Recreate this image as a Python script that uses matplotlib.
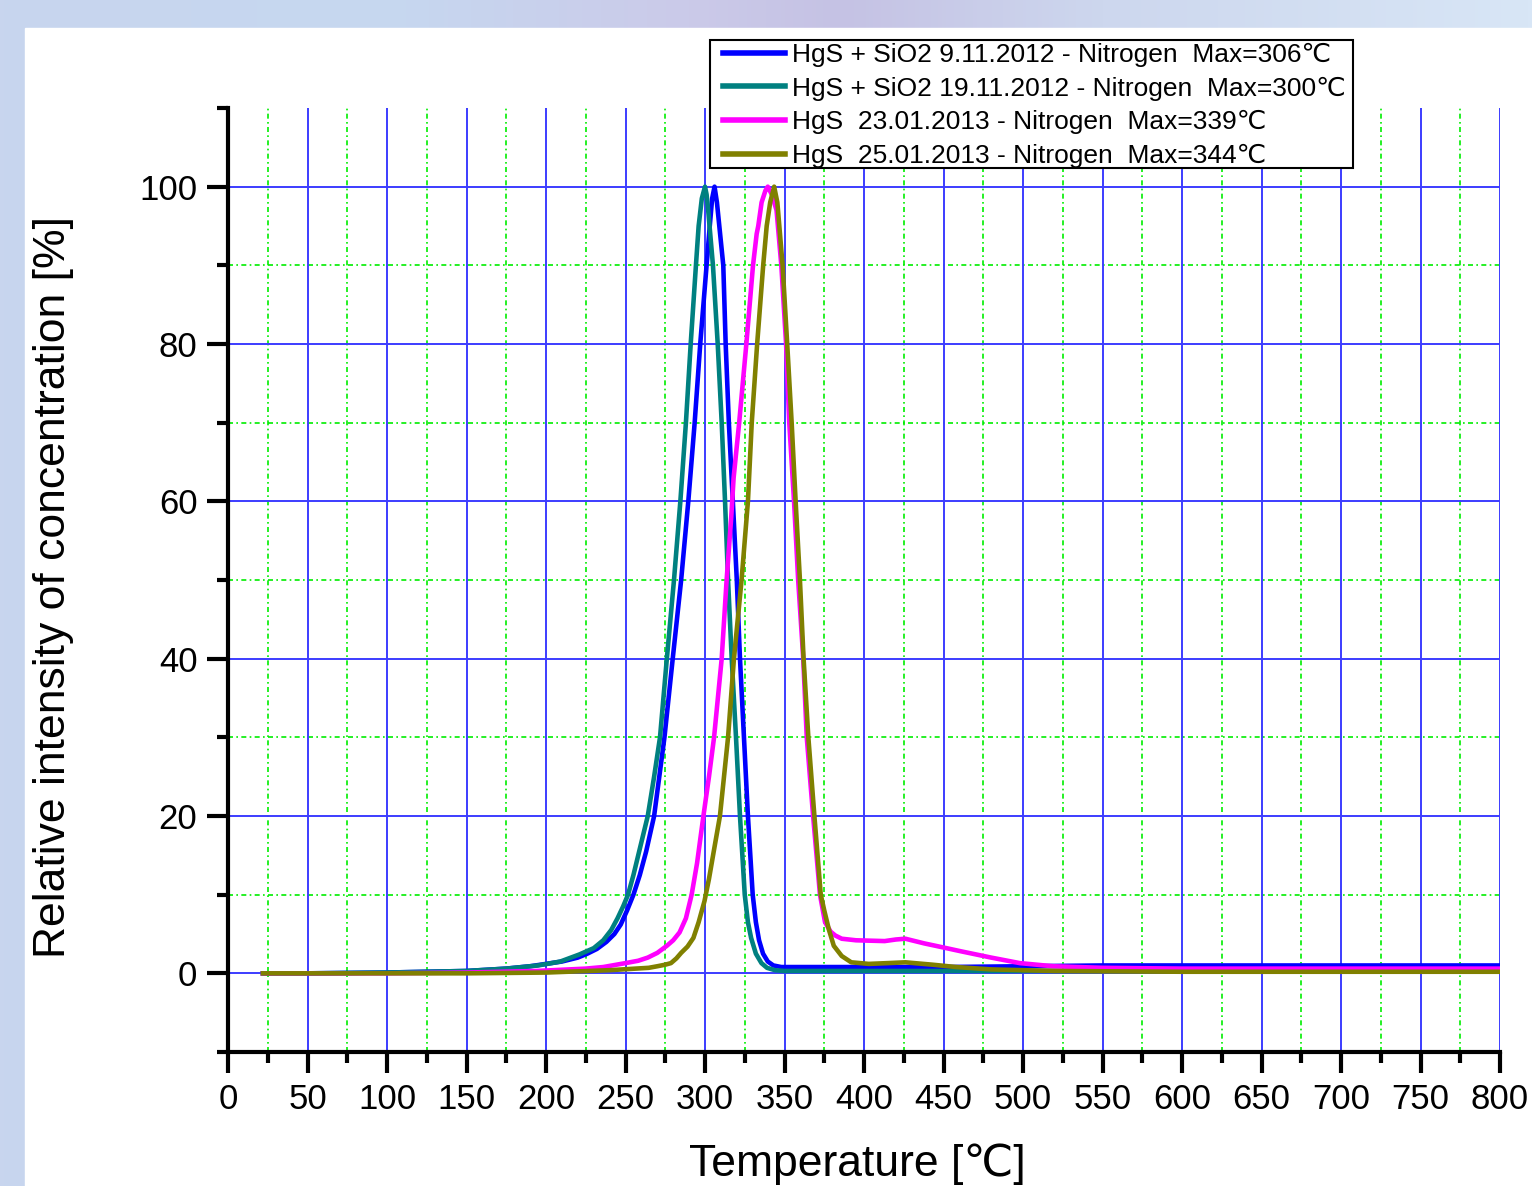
import numpy as np
import matplotlib
matplotlib.use("Agg")
import matplotlib.pyplot as plt
from matplotlib.patches import Rectangle
from matplotlib.lines import Line2D

# ==========================================
# DATA
# ==========================================
LABELS = [
    "HgS + SiO2 9.11.2012 - Nitrogen  Max=306\u2103",
    "HgS + SiO2 19.11.2012 - Nitrogen  Max=300\u2103",
    "HgS  23.01.2013 - Nitrogen  Max=339\u2103",
    "HgS  25.01.2013 - Nitrogen  Max=344\u2103",
]
COLORS = ["#0000ff", "#008080", "#ff00ff", "#808000"]

t_blue = [22, 50, 100, 150, 175, 190, 200, 210, 220, 226, 232, 238, 243, 247,
          251, 255, 259, 263, 268, 274.5, 279.7, 285, 289.5, 293.5, 297, 301,
          303, 304.5, 306, 307.5, 309, 311.5, 313, 315, 317.5, 320, 322, 324.5,
          327, 330, 332, 334, 336.5, 339.5, 343, 348, 360, 400, 450, 500, 550,
          600, 700, 800]
i_blue = [0, 0, 0.1, 0.3, 0.6, 0.9, 1.2, 1.5, 2.0, 2.5, 3.1, 4.0, 5, 6.2,
          8, 10, 12.5, 15.5, 20, 30, 40, 50, 60, 70, 80, 90,
          95, 98.5, 100, 98, 95, 90, 80, 70, 60, 50, 40, 30,
          20, 10, 6.5, 4.2, 2.5, 1.5, 1.0, 0.8, 0.8, 0.8, 0.8, 0.9, 1.0,
          1.0, 1.0, 1.0]

t_teal = [22, 50, 100, 150, 175, 195, 209, 221, 230, 236, 241, 245, 248.5,
          251.6, 255, 258, 261, 264, 268, 271.7, 276, 280.5, 284.5, 288, 291,
          294.3, 296, 298, 300, 301, 302, 305, 308, 310.5, 312.6, 314.5, 316.8,
          319.5, 322, 325, 327, 329, 332, 335.5, 339, 344, 350, 400, 500, 600,
          800]
i_teal = [0, 0, 0.1, 0.3, 0.6, 1.0, 1.5, 2.4, 3.2, 4.2, 5.5, 7, 8.5,
          10, 12.5, 15, 17.5, 20, 25, 30, 40, 50, 60, 70, 80,
          90, 95, 98.5, 100, 99, 97, 90, 80, 70, 60, 50, 40,
          30, 20, 10, 6.5, 4.5, 2.5, 1.3, 0.7, 0.4, 0.3, 0.3, 0.3, 0.3,
          0.3]

t_mag = [22, 100, 150, 194, 225, 236, 250, 258, 264, 270, 276, 280, 284, 288,
         291.6, 295, 299, 302.5, 305.7, 310.5, 313.6, 316.5, 318, 319.5, 321.5,
         326, 330.2, 332.5, 333.5, 335.6, 338, 339.5, 342, 345, 348, 351, 353,
         356, 358.6, 361.8, 364, 368, 372.3, 375.5, 379, 382, 386, 395, 413,
         420, 426, 432, 438, 445, 461, 480, 498, 519, 550, 600, 700, 800]
i_mag = [0, 0, 0.1, 0.3, 0.6, 0.8, 1.3, 1.6, 2.0, 2.6, 3.5, 4.2, 5.2, 7,
         10, 14, 20, 25, 30, 40, 50, 58, 63, 66, 70,
         80, 90, 94, 95, 98, 99.5, 100, 99, 97, 90, 80, 70,
         60, 50, 40, 30, 20, 10, 6.5, 5.3, 4.8, 4.4, 4.2, 4.1,
         4.3, 4.4, 4.1, 3.8, 3.5, 2.8, 2.0, 1.3, 0.9, 0.7, 0.6, 0.6, 0.6]

t_olive = [22, 100, 150, 200, 240, 264.6, 270, 275, 278.6, 282, 285, 289,
           292.7, 296, 299.7, 302.5, 305.5, 309.4, 314.5, 318.2, 323, 327,
           329.4, 332.8, 336.6, 338.8, 341, 343.5, 345.5, 348.8, 351.7, 354.5,
           357, 359.7, 362, 365, 368.8, 372.8, 375, 378, 381, 386, 392, 403,
           415, 426, 443, 458, 480, 520, 600, 700, 800]
i_olive = [0, 0, 0, 0.1, 0.4, 0.7, 0.9, 1.1, 1.3, 1.9, 2.6, 3.4,
           4.5, 6.5, 9.2, 12, 15.5, 20, 30, 40, 50, 60,
           70, 80, 90, 95, 98, 100, 98, 90, 80, 70,
           60, 50, 40, 30, 20, 10, 8, 5.5, 3.5, 2.2, 1.4, 1.2,
           1.3, 1.4, 1.1, 0.8, 0.5, 0.3, 0.2, 0.2, 0.2]

SERIES = [(t_blue, i_blue), (t_teal, i_teal), (t_mag, i_mag), (t_olive, i_olive)]

X_MAJOR = list(range(0, 801, 50))
X_MINOR = list(range(25, 800, 50))
Y_MAJOR = [0, 20, 40, 60, 80, 100]
Y_MINOR = [-10, 10, 30, 50, 70, 90, 110]
# ==========================================

W, H = 1532, 1186
plt.rcParams["font.family"] = ["Liberation Sans", "DejaVu Sans"]

fig = plt.figure(figsize=(W / 100, H / 100), dpi=100)

# slide background: pale blue/lilac strip, white panel
bg = fig.add_axes([0, 0, 1, 1], zorder=-10)
stops = [0.0, 0.25, 0.45, 0.55, 0.72, 1.0]
cols = np.array([[200, 213, 238], [198, 216, 240], [203, 202, 233],
                 [197, 194, 228], [205, 215, 238], [216, 230, 246]]) / 255
xs = np.linspace(0, 1, 400)
grad = np.stack([np.interp(xs, stops, cols[:, k]) for k in range(3)], axis=-1)
bg.imshow(grad[None, :, :], aspect="auto", extent=[0, 1, 0, 1])
bg.add_patch(Rectangle((25 / W, 0), 1, 1 - 28 / H, color="white"))
bg.set_xlim(0, 1)
bg.set_ylim(0, 1)
bg.axis("off")

ax = fig.add_axes([228 / W, 1 - 1052 / H, (1500 - 228) / W, (1052 - 108) / H])
ax.set_facecolor("none")

for x in X_MINOR:
    ax.axvline(x, color="#00ee00", lw=1.2, ls=(0, (3, 2, 1, 2)), zorder=1)
for y in Y_MINOR[1:-1]:
    ax.axhline(y, color="#00ee00", lw=1.2, ls=(0, (3, 2, 1, 2)), zorder=1)
for x in X_MAJOR[1:]:
    ax.axvline(x, color="#3c3cff", lw=1.4, zorder=1.5)
for y in Y_MAJOR:
    ax.axhline(y, color="#3c3cff", lw=1.4, zorder=1.5)

for (t, v), c, lab in zip(SERIES, COLORS, LABELS):
    ax.plot(t, v, color=c, lw=3.3, label=lab, zorder=3, solid_joinstyle="round")

ax.set_xlim(0, 800)
ax.set_ylim(-10, 110)
ax.set_xticks(X_MAJOR)
ax.set_xticks(X_MINOR, minor=True)
ax.set_yticks(Y_MAJOR)
ax.set_yticks(Y_MINOR, minor=True)

for s in ["top", "right"]:
    ax.spines[s].set_visible(False)
for s in ["left", "bottom"]:
    ax.spines[s].set_linewidth(3)
    ax.spines[s].set_color("black")

ax.tick_params(which="major", length=15, width=3, direction="out",
               labelsize=25, pad=7, colors="black")
ax.tick_params(which="minor", length=8, width=3, direction="out")

ax.set_xlabel("Temperature [\u2103]", fontsize=32)
ax.xaxis.set_label_coords(0.495, -0.097)
ax.set_ylabel("Relative intensity of concentration [%]", fontsize=32)
ax.yaxis.set_label_coords(-0.121, 0.4926)

# legend box drawn separately so its padding matches the original
handles = [Line2D([], [], color=c, lw=4) for c in COLORS]
leg = fig.legend(handles, LABELS, loc="upper left",
                 bbox_to_anchor=(723 / W, 1 - 43 / H), borderaxespad=0,
                 borderpad=0, fontsize=19, frameon=False,
                 handlelength=2.35, handletextpad=0.25, labelspacing=0.36)
fig.add_artist(Rectangle((710 / W, 1 - 168 / H), (1353 - 710) / W, 128 / H,
                         transform=fig.transFigure, facecolor="white",
                         edgecolor="black", lw=1.5, zorder=4))
leg.set_zorder(5)

fig.savefig("out.png", dpi=100)
